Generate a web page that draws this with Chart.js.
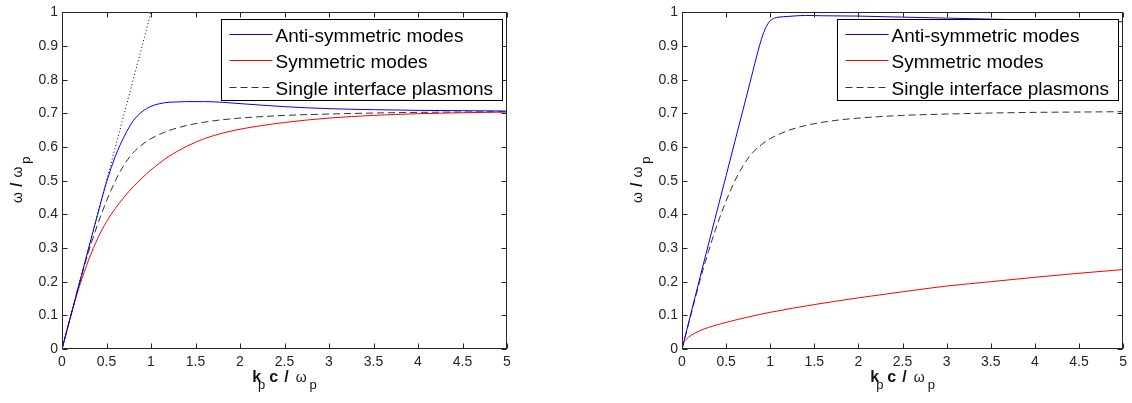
<!DOCTYPE html>
<html>
<head>
<meta charset="utf-8">
<script src="https://cdn.jsdelivr.net/npm/chart.js@4.4.0/dist/chart.umd.min.js"></script>
<style>
  html, body { margin: 0; padding: 0; background: #fff; }
  body { width: 1132px; height: 403px; position: relative; overflow: hidden; }
  canvas { position: absolute; top: 0; }
  #leftChart { left: 0; }
  #rightChart { left: 566px; }
</style>
</head>
<body>
<canvas id="leftChart" width="566" height="403"></canvas>
<canvas id="rightChart" width="566" height="403"></canvas>
<script>
// k c / wp values and w / wp values
const kThin = [0, 0.1, 0.2, 0.3, 0.4, 0.5, 0.6, 0.7, 0.8, 0.9, 1.0, 1.1, 1.2, 1.3, 1.4, 1.6, 1.8, 2.0, 2.5, 3.0, 3.5, 4.0, 4.5, 5.0];
const antiThin = [0, 0.1, 0.2, 0.3, 0.4, 0.495, 0.573, 0.632, 0.678, 0.705, 0.721, 0.729, 0.733, 0.734, 0.735, 0.735, 0.733, 0.729, 0.72, 0.714, 0.711, 0.709, 0.708, 0.707];
const symThin = [0, 0.1, 0.19, 0.265, 0.328, 0.378, 0.418, 0.452, 0.482, 0.508, 0.532, 0.553, 0.572, 0.588, 0.602, 0.625, 0.641, 0.653, 0.673, 0.686, 0.694, 0.699, 0.702, 0.704];

// single interface plasmon, same in both panels
const kSingle = kThin;
const wSingle = [0, 0.1, 0.2, 0.29, 0.37, 0.44, 0.5, 0.548, 0.583, 0.607, 0.625, 0.638, 0.649, 0.657, 0.664, 0.674, 0.681, 0.686, 0.694, 0.698, 0.701, 0.703, 0.704, 0.705];

// light line (left panel only)
const kLight = [0, 1];
const wLight = [0, 1];

// right panel
const kAntiThick = [0, 0.25, 0.5, 0.75, 0.9, 0.95, 1.0, 1.05, 1.1, 1.2, 1.4, 1.6, 2.0, 2.5, 3.0, 3.5, 4.0, 4.5, 5.0];
const antiThick = [0, 0.26, 0.515, 0.77, 0.92, 0.955, 0.975, 0.983, 0.986, 0.988, 0.991, 0.99, 0.989, 0.986, 0.983, 0.98, 0.977, 0.974, 0.972];
const kSymThick = [0, 0.02, 0.05, 0.1, 0.2, 0.3, 0.5, 0.75, 1.0, 1.5, 2.0, 2.5, 3.0, 3.5, 4.0, 4.5, 5.0];
const symThick = [0.005, 0.019, 0.029, 0.04, 0.054, 0.064, 0.079, 0.095, 0.109, 0.132, 0.152, 0.17, 0.187, 0.2, 0.213, 0.225, 0.236];

const legendLabels = ['Anti-symmetric modes', 'Symmetric modes', 'Single interface plasmons'];

const FONT = "'Liberation Sans', Arial, Helvetica, sans-serif";
const INK = '#262626';

function toPoints(xs, ys) {
    return xs.map((x, i) => ({ x: x, y: ys[i] }));
}

function curve(label, xs, ys, color, dash) {
    return {
        label: label,
        data: toPoints(xs, ys),
        borderColor: color,
        borderWidth: 1,
        borderDash: dash || [],
        showLine: true,
        pointRadius: 0,
        pointHoverRadius: 0,
        fill: false,
        cubicInterpolationMode: 'monotone'
    };
}

// draws a run of text pieces (used for titles with subscripts)
function runWidth(ctx, parts) {
    let w = 0;
    parts.forEach(p => {
        ctx.font = p.font;
        w += ctx.measureText(p.t).width + (p.gap || 0);
    });
    return w;
}

function drawRun(ctx, parts, x0) {
    let x = x0;
    parts.forEach(p => {
        ctx.font = p.font;
        ctx.fillText(p.t, x, p.dy || 0);
        x += ctx.measureText(p.t).width + (p.gap || 0);
    });
}

const xTitle = [
    { t: 'k', font: 'bold 16px ' + FONT, gap: -3 },
    { t: 'p', font: '13px ' + FONT, dy: 7, gap: 4 },
    { t: 'c', font: 'bold 16px ' + FONT, gap: 6 },
    { t: '/', font: 'bold 16px ' + FONT, gap: 7 },
    { t: 'ω', font: '14px ' + FONT, gap: 3 },
    { t: 'p', font: '13px ' + FONT, dy: 7 }
];

const yTitle = [
    { t: 'ω', font: '14px ' + FONT, gap: 5 },
    { t: '/', font: 'bold 16px ' + FONT, gap: 5 },
    { t: 'ω', font: '14px ' + FONT, gap: 3 },
    { t: 'p', font: '13px ' + FONT, dy: 8 }
];

// box, inward ticks, legend inside the plot and axis titles
const framePlugin = {
    id: 'frame',
    afterDatasetsDraw(chart) {
        const { ctx, chartArea: a, scales: { x, y } } = chart;
        const L = Math.round(a.left) + 0.5, R = Math.round(a.right) - 0.5;
        const T = Math.round(a.top) + 0.5, B = Math.round(a.bottom) - 0.5;

        ctx.save();
        ctx.strokeStyle = INK;
        ctx.lineWidth = 1;
        ctx.beginPath();
        x.ticks.forEach(t => {
            const px = Math.round(x.getPixelForValue(t.value)) + 0.5;
            ctx.moveTo(px, B); ctx.lineTo(px, B - 5);
            ctx.moveTo(px, T); ctx.lineTo(px, T + 5);
        });
        y.ticks.forEach(t => {
            const py = Math.round(y.getPixelForValue(t.value)) + 0.5;
            ctx.moveTo(L, py); ctx.lineTo(L + 5, py);
            ctx.moveTo(R, py); ctx.lineTo(R - 5, py);
        });
        ctx.stroke();
        ctx.strokeRect(L, T, R - L, B - T);

        // legend
        const items = chart.data.datasets.filter(d => d.label);
        ctx.font = '19px ' + FONT;
        const textW = Math.max(...items.map(d => ctx.measureText(d.label).width));
        const w = Math.round(8 + 43 + 3 + textW + 9), h = 81;
        const bx = Math.round(a.right - 5 - w) + 0.5, by = Math.round(a.top + 7) + 0.5;
        ctx.fillStyle = '#fff';
        ctx.fillRect(bx, by, w, h);
        ctx.strokeStyle = '#000';
        ctx.strokeRect(bx, by, w, h);
        items.forEach((d, i) => {
            const cy = Math.round(by + 14 + i * 26.5) + 0.5;
            ctx.strokeStyle = d.borderColor;
            ctx.setLineDash(d.borderDash);
            ctx.beginPath();
            ctx.moveTo(bx + 8, cy);
            ctx.lineTo(bx + 51, cy);
            ctx.stroke();
            ctx.setLineDash([]);
            ctx.fillStyle = '#000';
            ctx.textBaseline = 'alphabetic';
            ctx.font = '19px ' + FONT;
            ctx.fillText(d.label, bx + 54, cy + 7);
        });

        // axis titles
        ctx.fillStyle = '#111';
        ctx.textBaseline = 'alphabetic';
        ctx.save();
        const xw = runWidth(ctx, xTitle);
        ctx.translate(0, 381.5);
        drawRun(ctx, xTitle, (a.left + a.right) / 2 - xw / 2);
        ctx.restore();

        ctx.save();
        const yw = runWidth(ctx, yTitle);
        ctx.translate(a.left - 40, (a.top + a.bottom) / 2 - 1);
        ctx.rotate(-Math.PI / 2);
        drawRun(ctx, yTitle, -yw / 2);
        ctx.restore();

        ctx.restore();
    }
};

function tickText(v) {
    return String(Number(v.toFixed(1)));
}

function makeChart(id, datasets, padLeft, padRight) {
    return new Chart(document.getElementById(id), {
        type: 'scatter',
        data: { datasets: datasets },
        options: {
            responsive: false,
            animation: false,
            events: [],
            layout: { padding: { left: padLeft, right: padRight, top: 5, bottom: 0 } },
            plugins: { legend: { display: false }, tooltip: { enabled: false } },
            scales: {
                x: {
                    type: 'linear', min: 0, max: 5,
                    grid: { display: false, drawTicks: false },
                    border: { display: false },
                    ticks: { stepSize: 0.5, padding: 5, maxRotation: 0, color: INK, font: { family: FONT, size: 14 }, callback: tickText },
                    afterFit(s) { s.height = 54; }
                },
                y: {
                    type: 'linear', min: 0, max: 1,
                    grid: { display: false, drawTicks: false },
                    border: { display: false },
                    ticks: { stepSize: 0.1, padding: 4, color: INK, font: { family: FONT, size: 14 }, callback: tickText },
                    afterFit(s) { s.width = 62; }
                }
            }
        },
        plugins: [framePlugin]
    });
}

makeChart('leftChart', [
    curve('', kLight, wLight, '#000', [1, 2.5]),
    curve(legendLabels[0], kThin, antiThin, '#0000ff'),
    curve(legendLabels[1], kThin, symThin, '#ff0000'),
    curve(legendLabels[2], kSingle, wSingle, '#333', [7, 4])
], 0, 59);

makeChart('rightChart', [
    curve(legendLabels[0], kAntiThick, antiThick, '#0000ff'),
    curve(legendLabels[1], kSymThick, symThick, '#ff0000'),
    curve(legendLabels[2], kSingle, wSingle, '#333', [7, 4])
], 54, 7);
</script>
</body>
</html>
